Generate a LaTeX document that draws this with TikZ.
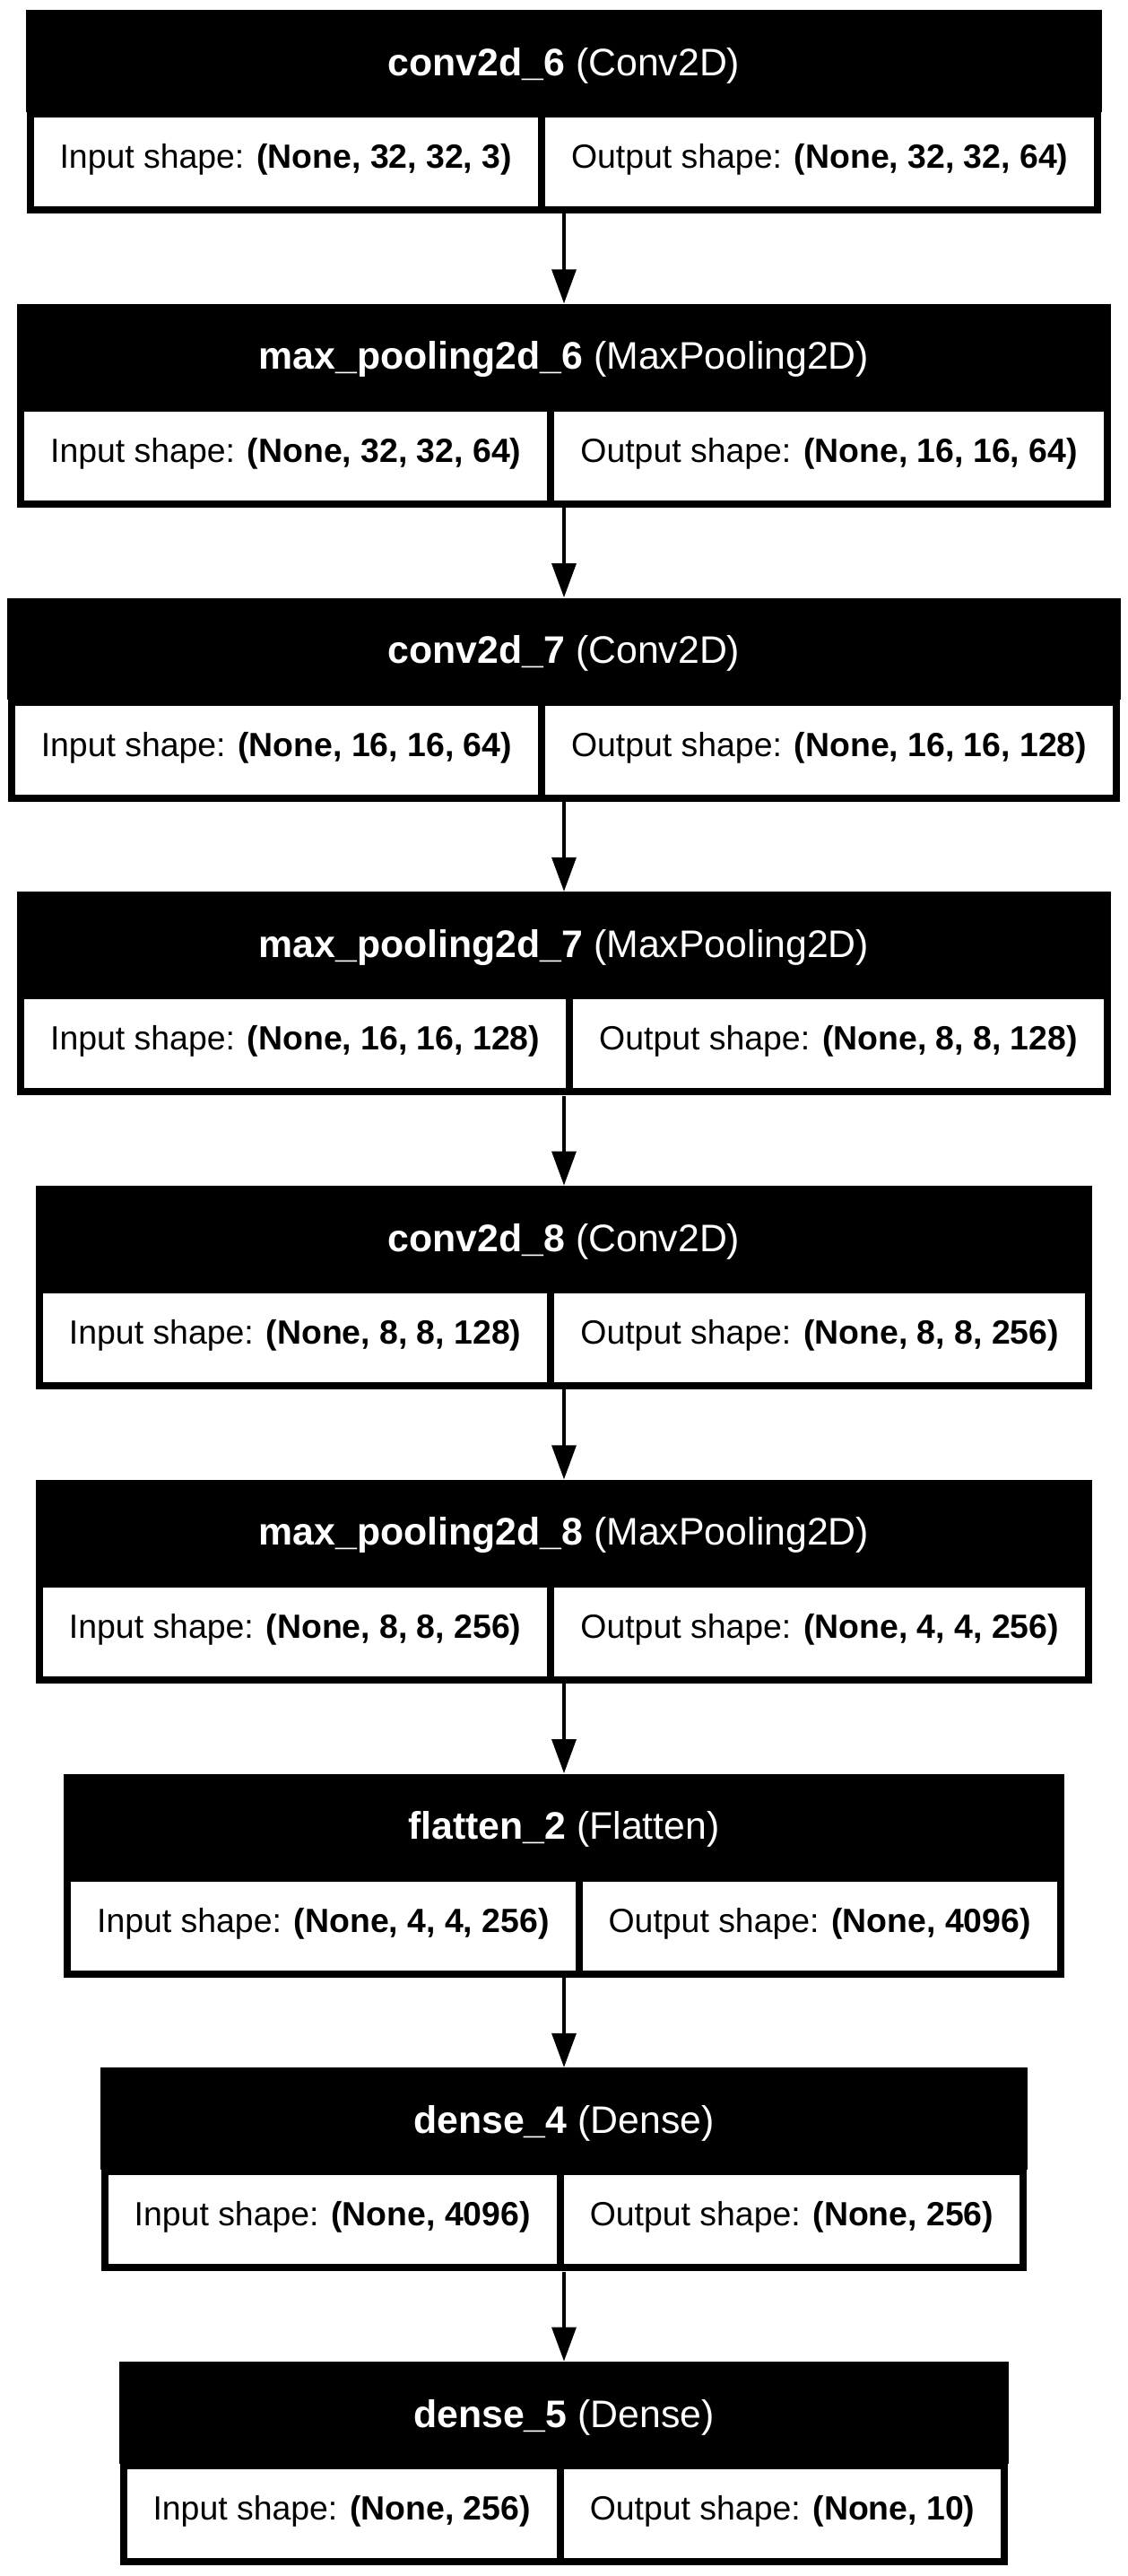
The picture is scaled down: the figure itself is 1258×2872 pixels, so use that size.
\documentclass[tikz,border=0pt]{standalone}
\usepackage{fontspec}
\setmainfont{Liberation Sans}
\usetikzlibrary{fit,arrows.meta}

\def\boxstep{327.75}

\begin{document}
\begin{tikzpicture}[x=0.5pt,y=-0.5pt]
    \tikzstyle{frame}=[fill=black,inner sep=4pt,column sep=4pt,ampersand replacement=\&]
    \tikzstyle{cell}=[fill=white,minimum height=49.5pt,inner xsep=14.5pt,inner ysep=0pt,text height=0.716em,text depth=0pt,font=\fontsize{18.7}{22}\selectfont]
    \tikzstyle{head}=[fill=black,inner sep=0pt]
    \tikzstyle{headtext}=[inner sep=0pt,text=white,text height=0.716em,text depth=0pt,font=\fontsize{21.4}{25}\selectfont]
    \tikzstyle{link}=[-{Triangle[length=19pt,width=13.5pt]},line width=1.6pt]

    \fill[white] (0,0) rectangle (1258,2872);

    \foreach \lname/\ltype/\inp/\outp [count=\i from 0] in {
        conv2d\_6/Conv2D/{(None, 32, 32, 3)}/{(None, 32, 32, 64)},
        max\_pooling2d\_6/MaxPooling2D/{(None, 32, 32, 64)}/{(None, 16, 16, 64)},
        conv2d\_7/Conv2D/{(None, 16, 16, 64)}/{(None, 16, 16, 128)},
        max\_pooling2d\_7/MaxPooling2D/{(None, 16, 16, 128)}/{(None, 8, 8, 128)},
        conv2d\_8/Conv2D/{(None, 8, 8, 128)}/{(None, 8, 8, 256)},
        max\_pooling2d\_8/MaxPooling2D/{(None, 8, 8, 256)}/{(None, 4, 4, 256)},
        flatten\_2/Flatten/{(None, 4, 4, 256)}/{(None, 4096)},
        dense\_4/Dense/{(None, 4096)}/{(None, 256)},
        dense\_5/Dense/{(None, 256)}/{(None, 10)}
    }{
        \matrix[frame] (r\i) at (629,{11+\boxstep*\i+169.5}) {
            \node[cell] {Input shape: \textbf{\inp}}; \& \node[cell] {Output shape: \textbf{\outp}}; \\
        };
        \node[head,fit={(r\i.north west) ([yshift=-1pt]r\i.north east) (629,{11+\boxstep*\i})}] (h\i) {};
        \node[headtext] (t\i) at (629,{11+\boxstep*\i+66}) {\textbf{\lname} (\ltype)};
    }

    \foreach \i [remember=\i as \j (initially 0)] in {1,...,8}
        \draw[link] (r\j.south) -- (h\i.north);
\end{tikzpicture}
\end{document}
